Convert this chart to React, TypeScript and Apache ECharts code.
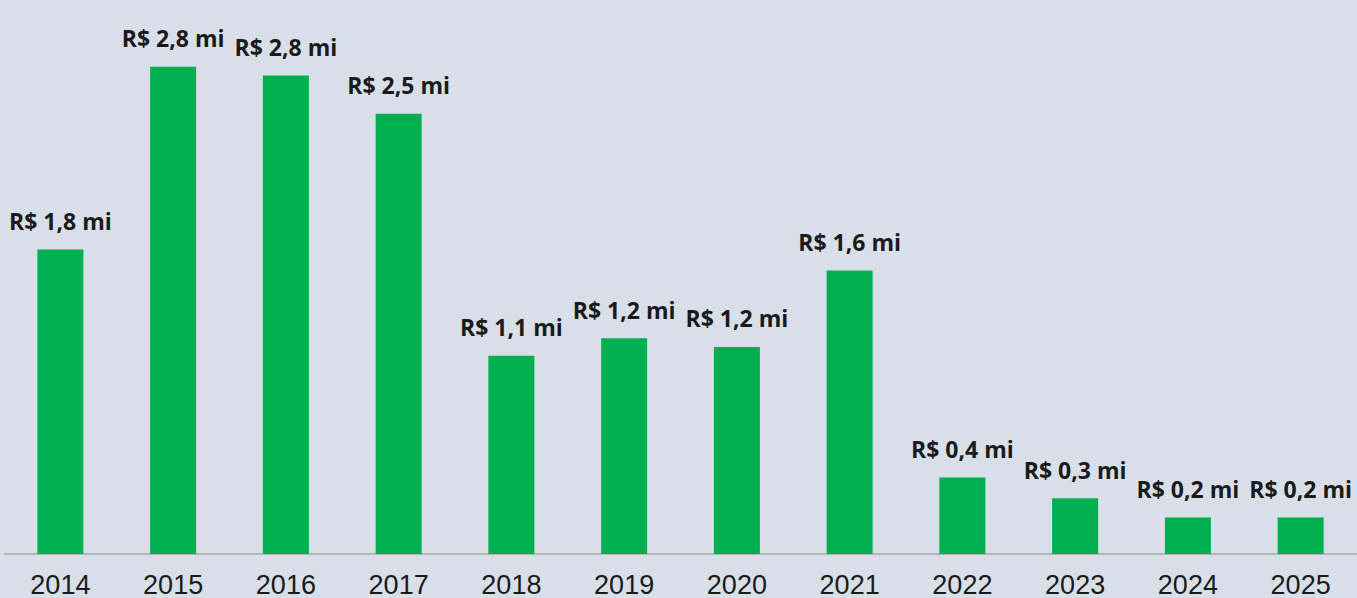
import React, { useEffect, useRef } from "react";
import * as echarts from "echarts";

const years = ["2014", "2015", "2016", "2017", "2018", "2019", "2020", "2021", "2022", "2023", "2024", "2025"];
const valuesMi = [1.75, 2.8, 2.75, 2.53, 1.14, 1.24, 1.19, 1.63, 0.44, 0.32, 0.21, 0.21];

export default function App() {
  const ref = useRef<HTMLDivElement>(null);
  useEffect(() => {
    if (!ref.current) return;
    const chart = echarts.init(ref.current, undefined, { renderer: "svg" });
    chart.setOption({
      animation: false,
      backgroundColor: "#d9dfe9",
      grid: { left: 4, right: 0, top: 32, bottom: 44, containLabel: false },
      xAxis: {
        type: "category",
        data: years,
        axisLine: { show: true, lineStyle: { color: "#a6a6a6", width: 1.5 } },
        axisTick: { show: false },
        axisLabel: {
          color: "#1a1a1a",
          fontFamily: "Liberation Sans, Arial, sans-serif",
          fontSize: 27,
          margin: 17,
        },
      },
      yAxis: {
        type: "value",
        min: 0,
        max: 3,
        show: false,
        splitLine: { show: false },
      },
      series: [
        {
          type: "bar",
          data: valuesMi,
          barWidth: 46,
          itemStyle: { color: "#00b050" },
          label: {
            show: true,
            position: "top",
            distance: 17,
            color: "#1a1a1a",
            fontFamily: "Open Sans, sans-serif",
            fontWeight: "bold",
            fontSize: 23,
            formatter: (p: any) => "R$ " + Number(p.value).toFixed(1).replace(".", ",") + " mi",
          },
        },
      ],
    });
    return () => chart.dispose();
  }, []);
  return <div ref={ref} style={{ position: "fixed", left: 0, top: 0, width: 1357, height: 598 }} />;
}
